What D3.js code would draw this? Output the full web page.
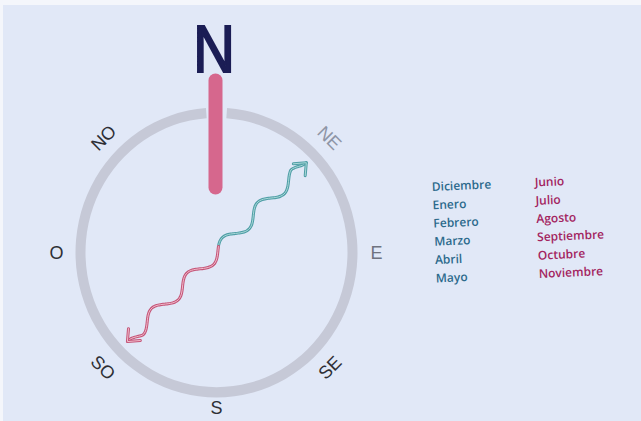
<!DOCTYPE html>
<html>
<head>
<meta charset="utf-8">
<script src="https://cdn.jsdelivr.net/npm/d3@7"></script>
<style>
  html, body { margin: 0; padding: 0; background: #f4f6fb; }
  svg { display: block; }
</style>
</head>
<body>
<div id="chart"></div>
<script>
// compass points, clockwise from north (degrees)
var directions = ["N", "NE", "E", "SE", "S", "SO", "O", "NO"];
var angles = [0, 45, 90, 135, 180, 225, 270, 315];

// wind arrow: blows from NE (teal part) towards SO (pink part)
var arrowFrom = 45, arrowTo = 225;

// months, two seasons
var blueMonths = ["Diciembre", "Enero", "Febrero", "Marzo", "Abril", "Mayo"];
var redMonths = ["Junio", "Julio", "Agosto", "Septiembre", "Octubre", "Noviembre"];

var width = 641, height = 421;
var cx = 216.5, cy = 252.5;

var svg = d3.select("#chart").append("svg")
    .attr("width", width).attr("height", height);

// paper
svg.append("rect").attr("x", 3).attr("y", 5).attr("width", width - 3).attr("height", height - 5)
    .attr("fill", "#e1e8f7");

var angle = d3.scaleLinear().domain([0, 360]).range([0, 2 * Math.PI]);
function polar(deg, r) {
    var a = angle(deg);
    return [r * Math.sin(a), -r * Math.cos(a)];
}

var g = svg.append("g").attr("transform", "translate(" + cx + "," + cy + ")");

// ring, with a gap at the top for the needle
var gap = 0.075;
var ring = d3.arc().innerRadius(131).outerRadius(141)
    .startAngle(gap).endAngle(2 * Math.PI - gap);
g.append("path").attr("d", ring())
    .attr("transform", "scale(1,1.028)")
    .attr("fill", "#c6c9d7");

// north needle
g.append("line")
    .attr("x1", -1).attr("x2", -1)
    .attr("y1", -172).attr("y2", -65)
    .attr("stroke", "#d6678d").attr("stroke-width", 14)
    .attr("stroke-linecap", "round");

// labels
var labelColor = { NE: "#8e95a6", E: "#6f7380" };
g.selectAll(".dir").data(directions.slice(1)).enter().append("text")
    .attr("class", "dir")
    .attr("transform", function(d, i) {
        var deg = angles[i + 1];
        var p = polar(deg, deg === 180 ? 153 : 160);
        var rot = deg % 90 === 0 ? 0 : (deg > 90 && deg < 270 ? deg - 180 : deg);
        return "translate(" + p[0] + "," + (p[1] * 1.015) + ") rotate(" + rot + ")";
    })
    .attr("text-anchor", "middle")
    .attr("dy", "0.36em")
    .style("font-family", "Liberation Sans, Arial, sans-serif")
    .style("font-size", "18px")
    .style("fill", function(d) { return labelColor[d] || "#2e2f35"; })
    .text(function(d) { return d; });

g.append("text")
    .attr("x", 0).attr("y", 0)
    .attr("transform", "translate(-2.5," + (-181) + ") scale(0.86,1)")
    .attr("text-anchor", "middle")
    .style("font-family", "Liberation Sans, Arial, sans-serif")
    .style("font-size", "67px")
    .style("fill", "#1b1d55")
    .style("stroke", "#1b1d55").style("stroke-width", 2.2)
    .text(directions[0]);

// wavy arrow
var tipA = polar(arrowFrom, 127), tipB = polar(arrowTo, 126);
var dx = tipB[0] - tipA[0], dy = tipB[1] - tipA[1];
var len = Math.sqrt(dx * dx + dy * dy);
var ux = dx / len, uy = dy / len, nx = -uy, ny = ux;
var period = 50, amp = 6.5, split = 0.48;

function wave(t0, t1) {
    var pts = [];
    for (var s = t0 * len; s <= t1 * len + 0.01; s += 2) {
        var taper = Math.min(1, s / 16, (len - s) / 16);
        var o = amp * taper * Math.sin(2 * Math.PI * s / period);
        pts.push([tipA[0] + ux * s + nx * o, tipA[1] + uy * s + ny * o]);
    }
    return pts;
}
function chevron(tip, dirx, diry) {
    // dir points back along the shaft
    var out = [];
    [-0.7, 0.7].forEach(function(a) {
        var c = Math.cos(a), s = Math.sin(a);
        out.push([tip[0] + 13 * (dirx * c - diry * s), tip[1] + 13 * (dirx * s + diry * c)]);
    });
    return [out[0], tip, out[1]];
}
var line = d3.line().curve(d3.curveBasis);

var parts = [
    { pts: wave(0, split), head: chevron(tipA, ux, uy), outer: "#4f9ea6", inner: "#a9d8d8" },
    { pts: wave(split, 1), head: chevron(tipB, -ux, -uy), outer: "#c45478", inner: "#f0bccb" }
];
parts.forEach(function(p) {
    [p.pts, p.head].forEach(function(pts, k) {
        var l = k === 0 ? line : d3.line();
        g.append("path").attr("d", l(pts)).attr("fill", "none")
            .attr("stroke", p.outer).attr("stroke-width", 3)
            .attr("stroke-linecap", "round").attr("stroke-linejoin", "round");
        g.append("path").attr("d", l(pts)).attr("fill", "none")
            .attr("stroke", p.inner).attr("stroke-width", 1)
            .attr("stroke-linecap", "round").attr("stroke-linejoin", "round");
    });
});

// month legend
var legend = svg.append("g").attr("transform", "translate(432,191) rotate(-2.5)");
var row = d3.scaleLinear().domain([0, 1]).range([0, 18.3]);
legend.selectAll(".blue").data(blueMonths).enter().append("text")
    .attr("x", 0).attr("y", function(d, i) { return row(i); })
    .style("font-family", "Open Sans, sans-serif").style("font-weight", 600)
    .style("font-size", "12px").style("fill", "#2c6a8c")
    .text(function(d) { return d; });
legend.selectAll(".red").data(redMonths).enter().append("text")
    .attr("x", 103).attr("y", function(d, i) { return row(i); })
    .style("font-family", "Open Sans, sans-serif").style("font-weight", 600)
    .style("font-size", "12px").style("fill", "#a3245f")
    .text(function(d) { return d; });
</script>
</body>
</html>
